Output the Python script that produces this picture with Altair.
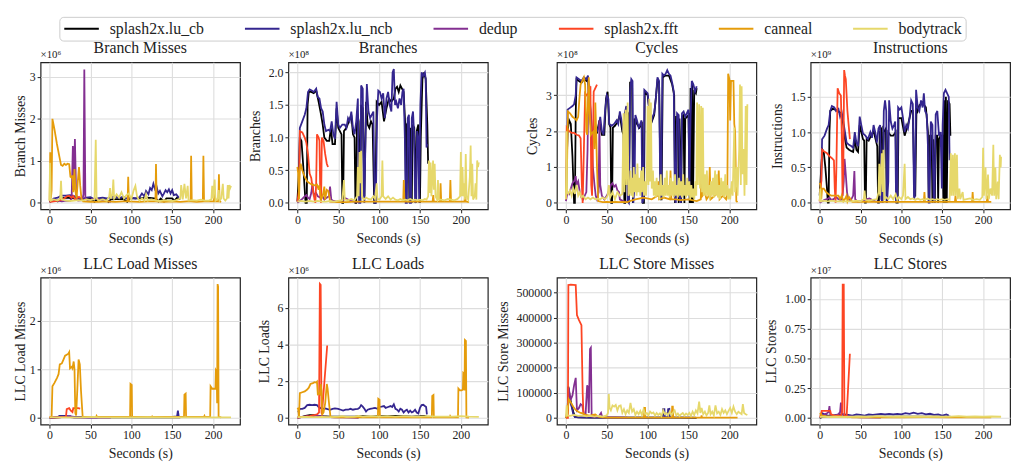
import altair as alt
import pandas as pd

SERIES = ["splash2x.lu_cb", "splash2x.lu_ncb", "dedup", "splash2x.fft", "canneal", "bodytrack"]
COLORS = ["#000000", "#34268f", "#832f91", "#fd4523", "#e59c0b", "#e6d86b"]
X_TICKS = [0, 50, 100, 150, 200]
FONT = "Liberation Serif"

# ---------------- Branch Misses (x1e6) ----------------
BM_LUCB = [(0,0.02),(3,0.05),(6,0.08),(10,0.03),(13,0.1),(20,0.12),(30,0.1),(40,0.08),(50,0.09),(55,0.02),(58,0.08),(70,0.07),(72,0.02),(75,0.08),(90,0.09),(95,0.02),(98,0.1),(110,0.1),(120,0.12),(130,0.1),(133,0.03),(136,0.1),(140,0.03),(143,0.1),(150,0.1),(153,0.05),(156,0.12),(160,0.08)]
BM_LUNCB = [(3,0.05),(5,0.1),(10,0.12),(14,0.17),(20,0.17),(25,0.18),(30,0.16),(33,0.1),(40,0.09),(45,0.12),(50,0.13),(55,0.08),(60,0.11),(65,0.12),(70,0.1),(75,0.13),(80,0.15),(85,0.11),(90,0.14),(95,0.09),(100,0.12),(105,0.1),(110,0.13),(113,0.22),(116,0.15),(118,0.28),(121,0.2),(123,0.35),(125,0.3),(127,0.45),(129,0.32),(131,0.38),(133,0.22),(135,0.28),(138,0.15),(140,0.22),(142,0.3),(144,0.25),(146,0.32),(148,0.22),(150,0.3),(152,0.18),(155,0.2),(158,0.12)]
BM_DEDUP = [(0,0.02),(5,0.04),(10,0.05),(15,0.03),(20,0.05),(25,0.04),(27,0.1),(28.5,1.35),(29.5,0.3),(31,1.52),(32.5,0.2),(35,0.05),(40,0.06),(41.5,0.2),(42.5,3.18),(43.8,0.1),(47,0.05),(52,0.08),(57,0.1),(62,0.06),(67,0.05),(72,0.03),(75,0.02)]
BM_FFT = [(0,0.02),(5,0.03),(10,0.05),(15,0.07),(18,0.1),(21,0.15),(24,0.16),(27,0.12),(29,0.16),(31,0.08),(34,0.12),(36,0.14),(38,0.1)]
BM_CAN = [(0,0.05),(0.8,1.2),(1.6,0.1),(2.5,0.3),(3.5,2.0),(6,1.75),(9,1.4),(12,1.1),(14,0.9),(16,0.88),(18,0.93),(20,0.9),(22,0.93),(24,0.92),(25.5,0.62),(27,0.6),(28,0.65),(29,0.25),(30.5,0.8),(31.5,0.3),(33,0.1),(34.5,0.5),(36,0.85),(37.5,0.4),(39,0.1),(41,0.03),(50,0.02),(60,0.02),(70,0.03),(80,0.02),(90,0.03),(95.5,0.03),(96.2,0.62),(97,0.03),(110,0.02),(120,0.03),(129.5,0.03),(130.2,0.92),(131,0.03),(140,0.02),(150,0.03),(160,0.02),(168,0.03),(172.5,0.03),(173.2,1.12),(174,0.03),(180,0.02),(187.5,0.03),(188.2,1.12),(189,0.03),(195,0.03),(201,0.03),(202,0.3),(203,0.03),(206.5,0.03),(207.2,0.68),(208,0.03),(210,0.02)]
BM_BODY = [(0,0.05),(0.5,0.95),(1.5,0.05),(5,0.08),(10,0.05),(13,0.1),(14,0.52),(15,0.08),(20,0.05),(25,0.04),(30,0.05),(35,0.06),(40,0.05),(45,0.08),(50,0.06),(55,0.08),(56.5,1.5),(57.5,0.1),(60,0.05),(65,0.08),(70,0.05),(73,0.15),(74,0.35),(75,0.1),(77,0.2),(78,0.55),(79,0.1),(82,0.2),(85,0.12),(88,0.25),(91,0.1),(94,0.18),(97,0.22),(100,0.08),(103,0.3),(105,0.4),(107,0.15),(110,0.05),(113,0.1),(116,0.05),(118,0.2),(120,0.05),(125,0.08),(130,0.05),(135,0.04),(140,0.06),(145,0.05),(150,0.04),(155,0.06),(160,0.1),(161,0.42),(163,0.08),(165,0.45),(167,0.1),(169,0.4),(170,0.05),(175,0.06),(180,0.05),(185,0.07),(190,0.05),(195,0.05),(198,0.08),(199,0.4),(200,0.1),(202,0.55),(203,0.05),(206,0.1),(207,0.3),(208,0.05),(210,0.1),(212,0.45),(213,0.1),(215,0.05),(217,0.1),(218,0.42),(219,0.1),(220,0.42),(221,0.35),(222,0.4)]

# ---------------- Branches (x1e8) ----------------
BR_LUCB = [(0,0.02),(2,0.5),(3,1.0),(5,0.95),(7,0.6),(9,0.2),(10,0.0),(11.5,0.0),(12.5,1.5),(14,1.7),(17,1.7),(20,1.68),(23,1.72),(26,1.55),(29,1.35),(31,1.2),(33,1.0),(36,0.95),(39,0.95),(41,1.15),(43,0.9),(46,0.9),(48,1.45),(50,1.15),(52,1.1),(54,1.05),(55,0.0),(56,0.0),(57,1.1),(60,1.15),(63,1.25),(66,1.35),(68,1.05),(70,1.0),(71,0.0),(72,0.0),(73,1.4),(75,1.25),(77,0.0),(78,1.5),(80,1.45),(82,0.1),(84,1.55),(86,1.2),(88,1.15),(90,1.25),(92,1.2),(94,0.0),(95.5,0.0),(97,1.55),(100,1.5),(103,1.55),(106,1.25),(109,1.45),(112,1.6),(115,1.55),(118,1.6),(120,1.75),(122,1.78),(124,1.7),(126,1.8),(128,1.75),(130,1.7),(132,1.2),(133,0.0),(134,1.2),(136,1.25),(137,0.0),(138,1.15),(140,0.0),(141,1.2),(143,1.15),(145,0.0),(146,1.1),(148,1.2),(150,0.0),(151,1.0),(153,1.9),(155,2.0),(157,1.9),(159,1.2),(160,0.6)]
BR_LUNCB = [(2,0.3),(3,1.15),(6,1.25),(9,1.35),(11,1.45),(13,1.7),(15,1.74),(18,1.72),(20,1.7),(23,1.75),(25,1.62),(27,1.6),(29,1.45),(31,1.4),(33,1.2),(35,1.1),(38,1.12),(40,1.1),(42,1.25),(44,1.05),(46,0.98),(48,1.55),(50,1.2),(52,1.15),(55,1.2),(58,1.2),(60,1.15),(62,1.3),(64,1.25),(66,1.4),(68,1.15),(70,1.05),(72,1.25),(74,1.6),(75.5,0.0),(77,0.0),(78,1.8),(80,1.75),(81,0.3),(82,0.0),(83.5,1.1),(85,1.82),(87,1.4),(89,1.3),(91,1.35),(93,1.4),(94.5,0.0),(96,0.0),(97.5,1.3),(99,1.72),(101,1.7),(103,1.6),(105,1.68),(107,1.3),(109,1.6),(111,1.7),(113,1.5),(115,1.4),(116.5,2.0),(118,2.05),(119.5,1.5),(121,1.55),(123,1.45),(125,1.6),(127,1.5),(128.5,1.7),(130,1.75),(131.5,1.0),(132.5,0.0),(134,0.0),(135,1.3),(136.5,1.35),(137.5,0.0),(139,0.0),(140,1.3),(141.5,1.4),(143,1.0),(144,0.0),(145.5,0.05),(146.5,1.1),(148,1.0),(149,0.0),(150.5,1.5),(152,2.0),(154,1.95),(156,2.0),(157,1.9),(158,0.85),(159,0.9)]
BR_DEDUP = [(0,0.0),(3,0.03),(6,0.06),(9,0.1),(11,0.12),(13,0.08),(15,0.06),(17,0.15),(18.5,0.3),(20,0.12),(23,0.15),(25,0.1),(28,0.08),(30,0.12),(33,0.05),(36,0.08),(38.5,0.1),(40,0.25),(41.5,0.05),(44,0.03),(48,0.02),(52,0.03),(56,0.04),(59,0.07),(62,0.05),(65,0.03),(70,0.02),(75,0.01)]
BR_FFT = [(0,0.02),(2,0.2),(3,1.1),(6,1.08),(9,1.0),(11,0.92),(13,0.75),(15,0.45),(17,0.38),(19,0.2),(21,0.05),(22,0.0),(23,0.3),(24,1.05),(26,1.0),(27,0.95),(28,0.1),(29,0.0),(30,1.0),(32,0.95),(34,0.75),(36,0.6),(37.5,0.55)]
BR_CAN = [(0,0.55),(1,0.45),(2,0.05),(3,0.5),(4,0.6),(6,0.5),(9,0.4),(12,0.33),(15,0.3),(18,0.28),(21,0.27),(24,0.28),(26,0.2),(27,0.27),(29,0.05),(31,0.1),(33,0.25),(34,0.05),(36,0.2),(38,0.18),(40,0.02),(50,0.01),(60,0.01),(70,0.02),(80,0.02),(90,0.02),(100,0.02),(110,0.02),(120,0.02),(129.5,0.02),(130.2,0.35),(131,0.02),(140,0.02),(150,0.02),(160,0.02),(165.5,0.02),(166.2,0.12),(167,0.02),(174.5,0.02),(175.2,0.3),(176,0.02),(186.5,0.02),(187.2,0.35),(188,0.02),(195,0.02),(204.5,0.02),(205.2,0.2),(206,0.02),(210,0.01)]
BR_BODY = [(0,0.02),(5,0.03),(10,0.02),(15,0.03),(20,0.02),(25,0.03),(30,0.02),(35,0.02),(40,0.03),(45,0.02),(50,0.03),(55,0.04),(57,0.35),(58,0.05),(62,0.04),(66,0.06),(70,0.04),(73,0.1),(74,0.55),(75,0.1),(76,0.78),(77,0.3),(78,0.8),(79,0.1),(81,0.05),(84,0.08),(87,0.06),(90,0.05),(93,0.1),(95,0.06),(97,0.3),(98,0.05),(101,0.06),(103,0.1),(104,0.65),(105,0.1),(108,0.06),(111,0.1),(114,0.05),(117,0.08),(120,0.05),(123,0.04),(126,0.06),(129,0.04),(132,0.05),(135,0.04),(138,0.06),(141,0.04),(144,0.05),(147,0.04),(150,0.05),(153,0.04),(156,0.06),(158,0.05),(160,0.1),(161,0.65),(162,0.15),(163,0.62),(164,0.1),(166,0.65),(167,0.2),(168,0.6),(169,0.1),(171,0.05),(172,0.35),(173,0.05),(176,0.05),(180,0.04),(184,0.06),(188,0.05),(192,0.04),(196,0.06),(199,0.1),(200,0.78),(201,0.1),(202,0.55),(203,0.1),(204,0.3),(205,0.05),(206,0.75),(207,0.1),(209,0.05),(211,0.4),(212,0.88),(213,0.1),(214,0.6),(215,0.05),(217,0.1),(218,0.3),(219,0.05),(220,0.65),(221,0.55),(222,0.62)]

# ---------------- Cycles (x1e8) ----------------
CY_LUCB = [(0,0.2),(2,2.0),(4,2.3),(6,2.2),(8,1.3),(10,0.0),(11,0.0),(12,2.5),(13,3.45),(16,3.4),(19,3.35),(22,3.45),(25,3.4),(27,3.5),(29,2.7),(31,2.0),(34,1.95),(38,1.95),(41,2.3),(44,1.9),(47,1.9),(49,2.9),(51,3.1),(53,2.2),(54.5,2.1),(55.5,0.0),(56.5,0.0),(57.5,2.1),(60,2.15),(63,2.25),(66,2.45),(69,2.0),(70.5,1.9),(71.5,0.0),(72.5,0.0),(73.5,2.6),(76,2.5),(77,0.0),(78.5,3.35),(81,3.35),(82,0.0),(84,2.35),(87,2.2),(90,2.1),(93,2.2),(94,0.0),(95.5,0.0),(96.5,3.1),(100,3.0),(104,2.2),(108,2.45),(112,3.4),(114,3.35),(116,0.1),(117,0.1),(118.5,3.5),(122,3.55),(126,3.55),(130,3.3),(132.5,3.0),(133.5,0.0),(135,2.4),(137,2.4),(138,0.0),(139,2.35),(141,0.0),(142,2.4),(144,2.45),(145,0.0),(146,2.35),(148,2.4),(150,2.45),(151.5,0.0),(152.5,3.2),(153.5,0.0),(154.5,3.3),(155.5,0.0),(157,3.1),(159,3.05),(160,3.2)]
CY_LUNCB = [(1,0.3),(2,2.6),(5,2.65),(8,2.7),(10,2.75),(12,3.0),(13,3.5),(16,3.45),(19,3.4),(22,3.5),(25,3.45),(27,3.55),(28.5,3.0),(30,2.6),(32,2.0),(35,2.0),(38,2.0),(40,2.1),(42,2.4),(44,2.0),(46,1.9),(48,2.6),(50,3.0),(52,2.9),(53,2.2),(56,2.15),(59,2.2),(62,2.3),(64,2.2),(66,2.55),(68,2.3),(70,2.0),(72,2.5),(74,2.7),(75.5,0.05),(77,0.0),(78.5,3.1),(80,3.45),(81.5,3.4),(82.5,0.0),(84,0.5),(85,2.45),(87,2.3),(89,2.1),(91,2.2),(92.5,2.3),(93.5,0.0),(95,0.1),(96,3.15),(98,3.1),(100,3.05),(102,2.6),(104,2.2),(106,2.4),(108,2.5),(110,2.9),(112,3.5),(114,3.4),(115.5,0.2),(116.5,0.1),(118,3.6),(120,3.55),(122,3.6),(124,3.7),(126,3.6),(128,3.55),(130,3.35),(132,3.1),(133.5,0.1),(134.5,0.0),(136,2.5),(138,2.45),(139.5,0.1),(140.5,0.0),(142,2.5),(144,2.55),(146,2.4),(148,2.5),(150,2.6),(151,0.2),(152.5,2.4),(154,3.4),(156,3.3),(158,3.1),(160,3.25)]
CY_DEDUP = [(0,0.05),(2,0.3),(4,0.25),(6,0.4),(8,0.55),(10,0.6),(12,0.75),(13,0.5),(15,0.6),(17,0.3),(19,0.15),(21,0.1),(23,0.2),(25,0.3),(26.5,1.5),(27.5,3.2),(28.5,3.3),(30,2.6),(31.5,1.8),(33,1.0),(35,0.5),(36.5,0.2),(38,0.1),(40,0.3),(41,2.3),(42,0.5),(44,0.2),(47,0.1),(50,0.2),(53,0.35),(55,0.5),(57,0.55),(59,0.45),(61,0.5),(63,0.35),(65,0.3),(66,0.1),(70,0.05),(75,0.02)]
CY_FFT = [(0,0.1),(1,2.1),(4,2.0),(7,1.95),(10,1.95),(13,1.9),(16,1.88),(18,1.8),(19.5,0.5),(20.5,0.0),(22,1.5),(23.5,3.05),(25,3.0),(27,3.05),(28.5,3.1),(30,3.25),(31,0.5),(32,0.2),(34,3.1),(36,3.2),(38,3.3)]
CY_CAN = [(0,0.2),(1,0.5),(2.5,2.55),(5,2.5),(8,2.4),(11,2.35),(13,2.3),(15,2.4),(16.5,2.9),(18,3.3),(20,3.4),(22,3.5),(23.5,3.3),(25,2.0),(26,1.9),(27,2.8),(28,3.5),(29,2.5),(30.5,1.9),(32,1.95),(34,2.0),(35,1.5),(36,2.8),(37,2.0),(38,1.0),(39.5,0.05),(45,0.02),(50,0.03),(55,0.02),(60,0.03),(65,0.02),(70,0.03),(75,0.02),(78,0.05),(85,0.1),(95,0.15),(105,0.1),(112,0.2),(113,0.6),(114,0.1),(120,0.15),(127,0.1),(128,0.9),(129,0.1),(135,0.1),(140,0.08),(150,0.1),(160,0.05),(165,0.1),(166,0.9),(167,0.2),(170,0.3),(172,0.1),(175,0.2),(176,1.0),(177,0.1),(182,0.2),(186,0.3),(187,0.9),(188,0.1),(192,0.2),(196,0.1),(197.5,0.3),(198.5,3.6),(200,3.45),(201,2.3),(202,3.4),(205,3.4),(206,2.2),(207,2.0),(208.5,0.05),(210,0.02)]
CY_BODY = [(0,0.1),(0.7,2.0),(1.5,0.3),(3,0.25),(5,0.35),(7,0.2),(9,0.4),(11,0.25),(13,0.5),(15,0.2),(17,0.3),(19,0.15),(21,0.2),(24,0.1),(27,0.15),(30,0.1),(33,0.15),(36,0.1),(39,0.12),(42,0.1),(45,0.15),(48,0.1),(51,0.2),(52.5,0.5),(54,0.15),(57,0.3),(60,0.1),(63,0.3),(66,0.2),(69,0.25),(70.5,2.5),(71.5,0.3),(73,2.6),(74,0.5),(75.5,2.8),(76.5,0.2),(78,0.3),(79,0.9),(80,0.2),(81,0.7),(82,0.15),(83,1.0),(84,0.3),(85.5,0.8),(86.5,0.2),(87.5,1.1),(88.5,0.3),(90,0.7),(91,0.2),(92,0.9),(93,0.3),(94.5,1.0),(95.5,0.2),(97,0.6),(98,0.2),(99,0.8),(100,2.7),(101,0.5),(102,2.9),(103,0.6),(104,2.8),(105,0.4),(106.5,0.9),(107.5,0.2),(109,0.6),(110,0.15),(111,0.7),(112,0.2),(113.5,0.5),(114.5,0.1),(116,0.8),(117,0.2),(118.5,0.5),(119.5,0.15),(121,0.7),(122,0.2),(123.5,0.9),(124.5,0.2),(126,0.5),(127,0.15),(128.5,0.7),(129.5,0.2),(131,0.6),(132,0.15),(133.5,0.8),(134.5,0.2),(136,0.5),(137,0.15),(138.5,0.7),(139.5,0.2),(141,0.6),(142,0.15),(143.5,0.8),(144.5,0.2),(146,0.5),(147,0.15),(148.5,0.7),(149.5,0.2),(151,0.6),(152,0.1),(153.5,0.5),(154.5,0.15),(156,0.4),(157,0.1),(158.5,0.6),(159.5,0.2),(160.5,2.8),(161.5,0.5),(163,2.75),(164,0.4),(165.5,2.7),(166.5,0.3),(167.5,2.65),(168.5,0.2),(170,0.8),(171,0.2),(172.5,0.9),(173.5,0.2),(175,0.5),(176,0.1),(177.5,0.6),(178.5,0.2),(180,0.7),(181,0.15),(182.5,0.9),(183.5,0.2),(185,0.8),(186,0.15),(187.5,0.5),(188.5,0.1),(190,0.7),(191,0.2),(192.5,0.6),(193.5,0.15),(195,0.8),(196,0.2),(197.5,0.5),(198.5,0.1),(200,0.4),(201,0.1),(203,0.6),(204,0.2),(206,2.1),(207,0.3),(209,1.0),(210,0.2),(212,1.5),(213,3.3),(214,0.5),(215,3.25),(216,0.8),(217.5,1.5),(218.5,0.2),(220,2.7),(221,0.5),(222,2.75)]

# ---------------- Instructions (x1e9) ----------------
IN_LUCB = [(0,0.1),(2,0.5),(3.5,0.75),(5,0.72),(7,0.5),(9,0.2),(10,0.0),(11,0.0),(12,1.0),(13,1.3),(16,1.33),(19,1.32),(22,1.3),(25,1.28),(27,1.25),(29,1.1),(31,0.9),(33,0.78),(36,0.75),(39,0.73),(41,0.72),(43,0.9),(45,0.75),(47,0.72),(49,1.1),(51,1.0),(53,0.9),(54.5,0.88),(55.5,0.0),(56.5,0.0),(57.5,0.9),(60,0.88),(63,0.95),(66,1.02),(68,0.92),(70.5,0.8),(71.5,0.0),(72.5,0.0),(73.5,1.0),(76,1.05),(77,0.0),(78.5,1.0),(81,1.05),(82,0.0),(84,1.0),(87,0.95),(90,0.95),(93,1.0),(94,0.0),(95.5,0.0),(96.5,1.2),(100,1.2),(104,0.95),(108,1.1),(112,1.3),(114,1.3),(116,0.1),(117,0.1),(118.5,1.35),(120,1.3),(122,1.38),(124,1.4),(126,1.42),(128,1.38),(130,1.35),(132.5,1.0),(133.5,0.0),(135,0.95),(137,0.95),(138,0.0),(139,0.9),(141,0.0),(142,0.95),(144,0.95),(145,0.0),(146,0.9),(148,0.95),(150,0.95),(151.5,0.0),(152.5,1.45),(153.5,0.0),(154.5,1.5),(155.5,0.0),(157,1.45),(159,1.4),(160,0.95)]
IN_LUNCB = [(2,0.3),(3,0.9),(6,0.95),(9,1.05),(11,1.1),(13,1.3),(15,1.37),(18,1.35),(20,1.3),(23,1.33),(25,1.22),(27,1.28),(29,1.15),(31,1.0),(33,0.85),(36,0.82),(39,0.8),(41,0.78),(43,1.0),(45,0.85),(47,0.8),(49,1.22),(51,1.1),(53,0.98),(56,0.95),(59,0.9),(62,1.0),(64,0.92),(66,1.1),(68,1.0),(70,0.85),(72,1.05),(74,1.1),(75.5,0.05),(77,0.0),(78.5,1.3),(80,1.45),(81.5,1.3),(82.5,0.0),(84,0.3),(85,1.45),(87,1.15),(89,1.05),(91,1.1),(92.5,1.15),(93.5,0.0),(95,0.05),(96,1.35),(98,1.32),(100,1.35),(102,1.2),(104,1.0),(106,1.1),(108,1.05),(110,1.2),(112,1.45),(114,1.4),(115.5,0.05),(116.5,0.1),(118,1.6),(120,1.35),(122,1.3),(124,1.45),(126,1.35),(127.5,1.55),(129,1.3),(131,1.25),(132.5,0.8),(133.5,0.0),(134.5,0.0),(136,1.15),(138,1.1),(139.5,0.05),(140.5,0.0),(142,1.25),(144,1.3),(146,0.95),(148,1.0),(149.5,0.2),(150.5,1.1),(152,1.55),(154,1.6),(156,1.55),(158,1.5),(159,0.6)]
IN_DEDUP = [(0,0.0),(3,0.02),(6,0.04),(9,0.05),(12,0.07),(14,0.04),(17,0.05),(20,0.08),(23,0.05),(26,0.04),(28,0.1),(29.5,0.3),(30.5,0.62),(32,0.4),(33.5,0.15),(35,0.05),(38,0.03),(41,0.1),(42.5,0.45),(43.5,0.05),(46,0.02),(50,0.02),(55,0.03),(58,0.05),(61,0.06),(64,0.04),(68,0.02),(75,0.01)]
IN_FFT = [(0,0.02),(2,0.3),(3,0.75),(6,0.72),(9,0.7),(12,0.66),(15,0.63),(17.5,0.6),(18.5,0.2),(19.5,0.0),(20.5,0.5),(22,1.62),(24,1.55),(26,1.52),(27,1.0),(28,0.1),(29,0.5),(30,1.88),(31,1.8),(32,1.75),(34,1.3),(35.5,1.1),(37,0.9)]
IN_CAN = [(0,0.28),(1,0.25),(2,0.05),(3,0.2),(5,0.2),(8,0.15),(11,0.12),(14,0.1),(17,0.1),(20,0.1),(23,0.1),(25,0.05),(27,0.1),(29,0.02),(31,0.05),(33,0.1),(34,0.02),(36,0.08),(38,0.05),(40,0.01),(50,0.01),(60,0.01),(70,0.01),(80,0.01),(90,0.01),(100,0.01),(110,0.01),(120,0.01),(127.5,0.01),(128.2,0.15),(129,0.01),(140,0.01),(150,0.01),(160,0.01),(165.5,0.01),(166.2,0.1),(167,0.01),(175,0.01),(186.5,0.01),(187.2,0.15),(188,0.01),(195,0.01),(204.5,0.01),(205.2,0.1),(206,0.01),(210,0.01)]
IN_BODY = [(0,0.02),(0.7,0.2),(1.5,0.02),(5,0.03),(10,0.02),(15,0.03),(20,0.02),(25,0.02),(30,0.02),(35,0.02),(40,0.02),(45,0.03),(50,0.02),(54,0.05),(55,0.17),(56,0.04),(60,0.03),(65,0.04),(70,0.05),(72,0.15),(73,0.55),(74,0.1),(76,0.7),(77,0.15),(78,0.75),(79,0.05),(81,0.08),(84,0.05),(87,0.1),(90,0.05),(93,0.12),(95,0.04),(97,0.08),(100,0.05),(102,0.1),(104,0.55),(105,0.05),(108,0.08),(111,0.05),(114,0.06),(117,0.04),(120,0.06),(123,0.04),(126,0.05),(129,0.04),(132,0.06),(135,0.04),(138,0.05),(141,0.04),(144,0.05),(147,0.04),(150,0.05),(153,0.04),(156,0.05),(159,0.04),(160.5,0.7),(161.5,0.1),(163,0.68),(164,0.1),(165.5,0.7),(166.5,0.1),(168,0.68),(169,0.05),(171,0.2),(172,0.05),(175,0.15),(176,0.04),(180,0.05),(184,0.06),(188,0.04),(192,0.05),(196,0.04),(199,0.08),(200,0.78),(201,0.1),(203,0.5),(204,0.05),(206,0.4),(207,0.05),(209,0.2),(211,0.1),(212.5,0.82),(213.5,0.1),(215,0.5),(216,0.05),(218,0.3),(219,0.05),(220.5,0.68),(221.5,0.5),(222,0.65)]

# ---------------- LLC Load Misses (x1e6) ----------------
LM_LUCB = [(0,0.0),(10,0.01),(20,0.02),(30,0.01),(50,0.01),(70,0.01),(90,0.015),(110,0.01),(130,0.015),(150,0.01),(160,0.01)]
LM_LUNCB = [(2,0.0),(10,0.02),(12,0.04),(20,0.04),(25,0.03),(30,0.02),(50,0.02),(70,0.02),(90,0.02),(110,0.02),(130,0.02),(150,0.02),(156,0.03),(157,0.15),(158,0.03),(159,0.02)]
LM_DEDUP = [(0,0.0),(10,0.01),(20,0.02),(25,0.04),(27,0.02),(30,0.01),(50,0.005),(75,0.005)]
LM_FFT = [(0,0.01),(10,0.01),(20,0.02),(21,0.18),(24,0.2),(26,0.15),(28,0.12),(29,0.2),(32,0.2),(35,0.2),(37.5,0.19)]
LM_CAN = [(0,0.02),(2.5,0.02),(3.5,0.65),(6,0.72),(9,0.82),(11,0.9),(12.5,1.1),(15,1.12),(17,1.2),(19,1.28),(21,1.3),(23,1.32),(24,1.35),(25,1.02),(27,1.05),(28,1.02),(29.5,1.16),(30.5,1.0),(31.5,0.1),(32.5,0.05),(34,0.6),(35.5,1.2),(37,1.1),(38.5,0.55),(40.5,0.02),(50,0.02),(57,0.02),(57.5,0.04),(58,0.02),(70,0.02),(80,0.02),(90,0.02),(98.5,0.02),(99,0.7),(100.5,0.68),(101,0.02),(110,0.02),(125,0.02),(125.5,0.03),(126,0.02),(140,0.02),(150,0.02),(164.5,0.02),(165,0.48),(166.5,0.5),(167,0.02),(175,0.02),(189,0.02),(189.5,0.04),(190,0.02),(196.5,0.02),(197,0.65),(199,0.6),(201,0.6),(203,0.6),(203.5,0.98),(204.5,0.95),(205,0.3),(205.6,2.75),(206.2,2.7),(206.8,0.02),(210,0.01)]
LM_BODY = [(0,0.01),(20,0.01),(40,0.01),(55,0.02),(60,0.01),(80,0.01),(100,0.01),(120,0.015),(140,0.01),(160,0.01),(180,0.01),(200,0.01),(222,0.01)]

# ---------------- LLC Loads (x1e6) ----------------
LL_LUCB = [(0,0.02),(5,0.05),(10,0.12),(15,0.15),(20,0.15),(25,0.12),(30,0.1),(40,0.08),(50,0.08),(60,0.08),(70,0.08),(80,0.1),(90,0.08),(100,0.1),(110,0.1),(120,0.12),(130,0.1),(140,0.08),(150,0.1),(155,0.12),(160,0.05)]
LL_LUNCB = [(1,0.3),(3,0.5),(6,0.5),(9,0.55),(12,0.7),(15,0.72),(18,0.7),(21,0.72),(24,0.7),(26,0.6),(28,0.55),(31,0.5),(34,0.52),(37,0.48),(40,0.45),(43,0.5),(46,0.52),(50,0.5),(53,0.45),(56,0.4),(59,0.45),(62,0.45),(65,0.5),(68,0.45),(71,0.48),(74,0.5),(76,0.55),(78,0.7),(80,0.62),(82,0.5),(84,0.35),(86,0.45),(89,0.5),(92,0.52),(95,0.55),(98,0.5),(100,0.6),(103,0.62),(106,0.65),(108,0.55),(111,0.6),(114,0.65),(116,0.6),(118,0.75),(120,0.5),(122,0.45),(124,0.35),(126,0.5),(128,0.45),(130,0.3),(132,0.4),(134,0.45),(136,0.3),(138,0.4),(140,0.3),(142,0.35),(144,0.45),(146,0.3),(148,0.25),(150,0.55),(152,0.7),(154,0.72),(156,0.65),(157.5,0.6),(158.5,0.2)]
LL_DEDUP = [(0,0.0),(4,0.05),(8,0.08),(12,0.1),(16,0.08),(20,0.1),(24,0.15),(27,0.1),(30,0.12),(33,0.06),(40,0.05),(45,0.04),(55,0.03),(65,0.02),(75,0.01)]
LL_FFT = [(0,0.02),(5,0.05),(10,0.08),(15,0.1),(20,0.15),(24,0.2),(26.5,0.3),(27.5,7.3),(28.5,7.25),(29.5,0.3),(30,0.2),(36.5,3.95)]
LL_CAN = [(0,0.55),(1,0.5),(2,0.05),(3,1.35),(6,1.4),(9,1.45),(12,1.55),(14,1.65),(16,1.85),(19,1.9),(21,1.95),(23,1.93),(24,1.98),(25,1.3),(26.5,1.35),(27.5,1.3),(28.5,1.85),(29.5,1.5),(30.5,0.2),(32,0.3),(34,0.8),(36,1.85),(37,1.6),(38.5,0.9),(40.5,0.05),(50,0.03),(60,0.03),(70,0.03),(80,0.03),(90,0.03),(98.5,0.03),(99,1.05),(100.5,1.0),(101,0.03),(110,0.03),(120,0.03),(130,0.03),(140,0.03),(150,0.03),(164.5,0.03),(165,1.2),(166.5,1.25),(167,0.03),(175,0.03),(186.5,0.03),(187,0.1),(188,0.03),(196.5,0.03),(197,1.6),(199,1.5),(201,1.5),(202.5,1.55),(203,2.45),(204,2.4),(204.5,1.5),(205,4.25),(206.2,4.2),(206.8,0.03),(210,0.02)]
LL_BODY = [(0,0.05),(10,0.06),(20,0.05),(30,0.06),(40,0.05),(50,0.07),(55,0.1),(60,0.06),(70,0.08),(75,0.12),(80,0.08),(90,0.1),(100,0.08),(110,0.1),(120,0.08),(130,0.1),(140,0.08),(150,0.07),(160,0.1),(170,0.08),(180,0.07),(190,0.08),(200,0.1),(210,0.07),(222,0.06)]

# ---------------- LLC Store Misses (raw counts) ----------------
SM_LUCB = [(0,0),(2,20000),(3,125000),(5,80000),(7,50000),(9,25000),(11,5000),(15,2000),(30,1500),(60,1000),(100,1000),(140,1000),(160,500)]
SM_LUNCB = [(1,0),(2.5,40000),(3.5,95000),(5,70000),(7,45000),(9,15000),(11,3000),(20,2000),(50,1500),(100,1500),(118.5,2000),(119,35000),(120.5,35000),(121,2000),(124.5,2000),(125,35000),(126.5,36000),(127,2000),(129.5,2000),(130,25000),(131,2000),(145,1500),(159,1000)]
SM_DEDUP = [(0,0),(2,30000),(3.5,120000),(5.5,70000),(8,90000),(10,130000),(12,160000),(13.5,30000),(16,40000),(18,55000),(20,50000),(22,15000),(24,10000),(26,130000),(27,120000),(28,20000),(29.5,275000),(30.5,280000),(31.5,5000),(35,5000),(40,5000),(43,20000),(44.5,3000),(50,2000),(60,2000),(75,1000)]
SM_FFT = [(0,0),(2.5,0),(3,530000),(6,532000),(9,531000),(12,530000),(13.5,410000),(16,390000),(19,370000),(20.5,100000),(21.5,12000),(25,10000),(30,8000),(35,10000),(38,8000)]
SM_CAN = [(0,0),(2,20000),(3.5,75000),(6,62000),(9,45000),(12,32000),(15,25000),(18,20000),(21,18000),(24,12000),(27,10000),(30,9000),(33,12000),(36,14000),(39,6000),(42,3000),(50,1500),(60,1500),(80,1500),(95.5,1500),(96,40000),(96.8,40000),(97.2,1500),(110,1500),(120,1500),(129.5,1500),(130,45000),(130.8,45000),(131.2,1500),(150,1500),(165.5,1500),(166,10000),(166.5,1500),(190,1500),(210,1000)]
SM_BODY = [(0,5000),(1,50000),(2,10000),(5,8000),(10,12000),(15,8000),(20,10000),(25,6000),(30,8000),(35,5000),(40,8000),(45,5000),(50,10000),(51.5,20000),(52.5,95000),(53.5,40000),(55,30000),(57,50000),(59,45000),(61,52000),(63,30000),(65,48000),(67,50000),(69,20000),(71,35000),(73,15000),(75,30000),(77,20000),(79,60000),(81,25000),(83,35000),(85,12000),(87,25000),(89,15000),(91,28000),(93,12000),(95,35000),(97,15000),(99,20000),(101,10000),(103,25000),(105,18000),(107,22000),(109,10000),(111,20000),(113,12000),(115,18000),(117,8000),(119,30000),(121,15000),(123,20000),(125,10000),(127,25000),(129,12000),(131,22000),(133,30000),(135,10000),(137,18000),(139,8000),(141,15000),(143,20000),(145,10000),(147,18000),(149,12000),(151,20000),(153,8000),(155,25000),(157,12000),(159,30000),(161,18000),(163,65000),(164.5,20000),(166,40000),(168,15000),(170,25000),(172,10000),(174,20000),(175.5,50000),(177,15000),(179,25000),(181,10000),(183,50000),(185,18000),(187,25000),(189,12000),(191,35000),(193,20000),(195,30000),(197,15000),(199,28000),(201,40000),(203,20000),(205,45000),(207,25000),(209,15000),(211,25000),(213,20000),(215,15000),(216.5,55000),(218,20000),(220,15000),(222,12000)]

# ---------------- LLC Stores (x1e7) ----------------
ST_LUCB = [(0,0.0),(5,0.01),(20,0.01),(50,0.01),(100,0.012),(150,0.01),(160,0.01)]
ST_LUNCB = [(1,0.02),(3,0.04),(6,0.03),(10,0.02),(15,0.02),(20,0.025),(25,0.03),(30,0.03),(35,0.025),(40,0.02),(45,0.03),(50,0.025),(55,0.02),(60,0.03),(65,0.025),(70,0.03),(75,0.035),(80,0.03),(85,0.035),(90,0.03),(95,0.035),(100,0.03),(105,0.04),(110,0.035),(115,0.045),(120,0.035),(125,0.04),(130,0.03),(135,0.035),(140,0.025),(145,0.03),(150,0.02),(155,0.03),(158,0.02)]
ST_DEDUP = [(0,0.0),(3,0.02),(6,0.03),(9,0.04),(11,0.05),(12,0.1),(13,0.03),(16,0.02),(20,0.02),(23,0.03),(25,0.05),(26,0.13),(27,0.04),(30,0.02),(40,0.01),(50,0.005),(75,0.003)]
ST_FFT = [(0,0.01),(1.5,0.02),(2.5,0.06),(6,0.06),(10,0.06),(13,0.06),(14,0.03),(18,0.02),(22,0.02),(26,0.02),(27.5,0.05),(28.2,1.12),(29.5,1.12),(30.3,0.02),(33,0.01),(37,0.54)]
ST_CAN = [(0,0.04),(1,0.035),(3,0.02),(8,0.015),(15,0.012),(25,0.01),(35,0.008),(40,0.005),(60,0.004),(100,0.005),(130,0.006),(160,0.004),(200,0.006),(210,0.004)]
ST_BODY = [(0,0.01),(10,0.008),(20,0.01),(30,0.008),(40,0.01),(50,0.012),(60,0.01),(70,0.015),(80,0.012),(90,0.01),(100,0.012),(110,0.01),(120,0.012),(130,0.01),(140,0.012),(150,0.01),(160,0.012),(170,0.015),(180,0.01),(190,0.012),(200,0.01),(210,0.012),(222,0.01)]

PANELS = [
    ("Branch Misses", [BM_LUCB, BM_LUNCB, BM_DEDUP, BM_FFT, BM_CAN, BM_BODY], [-0.16, 3.35], [0, 1, 2, 3], ".0f", "×10⁶"),
    ("Branches", [BR_LUCB, BR_LUNCB, BR_DEDUP, BR_FFT, BR_CAN, BR_BODY], [-0.1, 2.155], [0, 0.5, 1, 1.5, 2], ".1f", "×10⁸"),
    ("Cycles", [CY_LUCB, CY_LUNCB, CY_DEDUP, CY_FFT, CY_CAN, CY_BODY], [-0.18, 3.92], [0, 1, 2, 3], ".0f", "×10⁸"),
    ("Instructions", [IN_LUCB, IN_LUNCB, IN_DEDUP, IN_FFT, IN_CAN, IN_BODY], [-0.095, 1.99], [0, 0.5, 1, 1.5], ".1f", "×10⁹"),
    ("LLC Load Misses", [LM_LUCB, LM_LUNCB, LM_DEDUP, LM_FFT, LM_CAN, LM_BODY], [-0.137, 2.886], [0, 1, 2], ".0f", "×10⁶"),
    ("LLC Loads", [LL_LUCB, LL_LUNCB, LL_DEDUP, LL_FFT, LL_CAN, LL_BODY], [-0.36, 7.65], [0, 2, 4, 6], ".0f", "×10⁶"),
    ("LLC Store Misses", [SM_LUCB, SM_LUNCB, SM_DEDUP, SM_FFT, SM_CAN, SM_BODY], [-26500, 560000], [0, 100000, 200000, 300000, 400000, 500000], "d", ""),
    ("LLC Stores", [ST_LUCB, ST_LUNCB, ST_DEDUP, ST_FFT, ST_CAN, ST_BODY], [-0.056, 1.18], [0, 0.25, 0.5, 0.75, 1.0], ".2f", "×10⁷"),
]

W, H = 202, 149
INK = "#222222"

color = alt.Color(
    "series:N",
    scale=alt.Scale(domain=SERIES, range=COLORS),
    legend=alt.Legend(
        orient="none", legendX=19, legendY=-46, direction="horizontal", columns=6,
        title=None, symbolType="M-1,0H4", symbolSize=196, symbolStrokeWidth=2,
        labelFont=FONT, labelFontSize=16, labelColor=INK, labelOffset=31,
        columnPadding=37, padding=4, strokeColor="#cccccc", cornerRadius=4,
        fillColor="white", labelLimit=0,
    ),
)


def make_frame(lists):
    rows = []
    for name, pts in zip(SERIES, lists):
        for i, (t, v) in enumerate(pts):
            rows.append({"series": name, "t": t, "v": v, "i": i})
    return pd.DataFrame(rows)


def panel(idx, title, lists, ydom, yticks, yfmt, expo):
    df = make_frame(lists)
    tpad = 1.5 if idx % 4 == 0 else 6
    lines = alt.Chart(df).mark_line(strokeWidth=1.8, clip=True).encode(
        x=alt.X("t:Q", scale=alt.Scale(domain=[-11, 233], nice=False, zero=False),
                axis=alt.Axis(values=X_TICKS, format="d", title="Seconds (s)")),
        y=alt.Y("v:Q", scale=alt.Scale(domain=ydom, nice=False, zero=False),
                axis=alt.Axis(values=yticks, format=yfmt, title=title, titlePadding=tpad)),
        color=color,
        order=alt.Order("i:Q"),
    )
    layers = [lines]
    offset = 6
    if expo:
        txt = alt.Chart(pd.DataFrame({"e": [expo]})).mark_text(
            align="left", baseline="alphabetic", fontSize=11, font=FONT, color=INK
        ).encode(x=alt.value(0), y=alt.value(-4), text="e:N")
        layers.append(txt)
        offset = -7
    return alt.layer(*layers).properties(
        width=W, height=H,
        title=alt.TitleParams(title, frame="group", offset=offset, fontSize=16, font=FONT,
                              fontWeight="normal", color=INK),
    )


charts = [panel(i, *p) for i, p in enumerate(PANELS)]

chart = alt.concat(
    *charts, columns=4, spacing={"row": 8, "column": 6}, align="each", bounds="full"
).configure_axis(
    labelFont=FONT, titleFont=FONT, labelFontSize=12, titleFontSize=14,
    titleFontWeight="normal", labelColor=INK, titleColor=INK,
    gridColor="#dddddd", gridWidth=1.1, domain=False,
    tickColor=INK, tickSize=3.5, tickWidth=1, labelPadding=2, titlePadding=6,
    minExtent=0,
).configure_view(
    stroke=INK, strokeWidth=1.2
)

chart.save("out.html", embed_options={"renderer": "svg", "actions": False})
